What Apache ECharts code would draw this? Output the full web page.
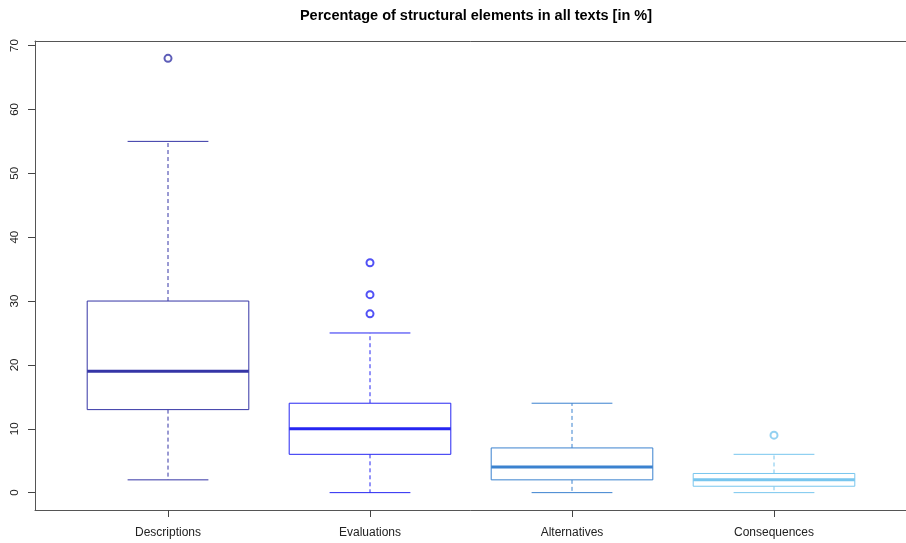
<!DOCTYPE html>
<html>
<head>
<meta charset="utf-8">
<script src="https://cdn.jsdelivr.net/npm/echarts@6/dist/echarts.min.js"></script>
<style>
  html, body { margin: 0; padding: 0; background: #fff; }
  #main { width: 906px; height: 543px; }
</style>
</head>
<body>
<div id="main"></div>
<script>
// box statistics (percent)
const categories = ["Descriptions", "Evaluations", "Alternatives", "Consequences"];
const whiskerLow = [2, 0, 0, 0];
const quartile1 = [13, 6, 2, 1];
const medians = [19, 10, 4, 2];
const quartile3 = [30, 14, 7, 3];
const whiskerHigh = [55, 25, 14, 6];
// outliers: [category index, value]
const outliers = [[0, 68], [1, 36], [1, 31], [1, 28], [3, 9]];
const yTicks = [0, 10, 20, 30, 40, 50, 60, 70];

const boxColors = ["#3535a6", "#2626f2", "#3b82cf", "#78c6ee"];
const frameColor = "#555";

const chart = echarts.init(document.getElementById("main"));

const boxData = categories.map(function (c, i) {
  return [i, whiskerLow[i], quartile1[i], medians[i], quartile3[i], whiskerHigh[i]];
});

// draw one R-style box: dashed whiskers, solid caps, thick median
function renderBox(params, api) {
  const i = api.value(0);
  const color = boxColors[i];
  const band = api.size([1, 0])[0];
  const half = band * 0.4;
  const capHalf = band * 0.2;
  const pLow = api.coord([i, api.value(1)]);
  const pQ1 = api.coord([i, api.value(2)]);
  const pMed = api.coord([i, api.value(3)]);
  const pQ3 = api.coord([i, api.value(4)]);
  const pHigh = api.coord([i, api.value(5)]);
  const x = pMed[0];
  const thin = { stroke: color, lineWidth: 1, fill: null };
  const dashed = { stroke: color, lineWidth: 1, lineDash: [4, 3], fill: null };
  return {
    type: "group",
    children: [
      { type: "line", shape: { x1: x, y1: pQ3[1], x2: x, y2: pHigh[1] }, style: dashed },
      { type: "line", shape: { x1: x, y1: pQ1[1], x2: x, y2: pLow[1] }, style: dashed },
      { type: "line", shape: { x1: x - capHalf, y1: pHigh[1], x2: x + capHalf, y2: pHigh[1] }, style: thin },
      { type: "line", shape: { x1: x - capHalf, y1: pLow[1], x2: x + capHalf, y2: pLow[1] }, style: thin },
      {
        type: "rect",
        shape: { x: x - half, y: pQ3[1], width: half * 2, height: pQ1[1] - pQ3[1] },
        style: { stroke: color, lineWidth: 1, fill: "#fff" }
      },
      { type: "line", shape: { x1: x - half, y1: pMed[1], x2: x + half, y2: pMed[1] }, style: { stroke: color, lineWidth: 3 } }
    ]
  };
}

const option = {
  animation: false,
  backgroundColor: "#fff",
  textStyle: { fontFamily: "Liberation Sans, Arial, sans-serif" },
  title: {
    text: "Percentage of structural elements in all texts [in %]",
    left: 471,
    textAlign: "center",
    top: 3,
    textStyle: { fontSize: 14.5, fontWeight: "bold", color: "#000" }
  },
  grid: [
    // frame + y axis (the plot box runs past the right edge, so no right side)
    { left: 35, width: 873, top: 41, bottom: 33, outerBoundsMode: "none" },
    // boxes
    { left: 67, right: 31, top: 41, bottom: 33 }
  ],
  xAxis: [
    {
      type: "value", gridIndex: 0, min: 0.34, max: 4.66, position: "bottom",
      axisLine: { show: true, onZero: false, lineStyle: { color: frameColor } },
      axisTick: { show: false }, axisLabel: { show: false }, splitLine: { show: false }
    },
    {
      type: "value", gridIndex: 0, min: 0.34, max: 4.66, position: "top",
      axisLine: { show: true, onZero: false, lineStyle: { color: frameColor } },
      axisTick: { show: false }, axisLabel: { show: false }, splitLine: { show: false }
    },
    {
      type: "category",
      gridIndex: 1,
      data: categories,
      boundaryGap: true,
      axisLine: { show: false, onZero: false },
      axisTick: { show: true, alignWithLabel: true, length: 7, lineStyle: { color: "#444" } },
      axisLabel: { margin: 17, fontSize: 12, color: "#222" },
      splitLine: { show: false }
    }
  ],
  yAxis: [
    {
      type: "value",
      gridIndex: 0,
      min: -2.72,
      max: 70.72,
      axisLine: { show: true, onZero: false, lineStyle: { color: frameColor } },
      axisTick: { show: true, length: 7, customValues: yTicks, lineStyle: { color: "#444" } },
      axisLabel: { customValues: yTicks, rotate: 90, margin: 14, fontSize: 11.5, color: "#222" },
      splitLine: { show: false }
    },
    { type: "value", gridIndex: 1, min: -2.72, max: 70.72, show: false }
  ],
  series: [
    {
      type: "custom",
      xAxisIndex: 2,
      yAxisIndex: 1,
      renderItem: renderBox,
      data: boxData,
      z: 2
    },
    {
      type: "scatter",
      xAxisIndex: 2,
      yAxisIndex: 1,
      symbol: "emptyCircle",
      symbolSize: 7,
      z: 3,
      data: outliers.map(function (o) {
        return {
          value: o,
          itemStyle: { color: boxColors[o[0]], borderColor: boxColors[o[0]], borderWidth: 1 }
        };
      })
    }
  ]
};

chart.setOption(option);
</script>
</body>
</html>
